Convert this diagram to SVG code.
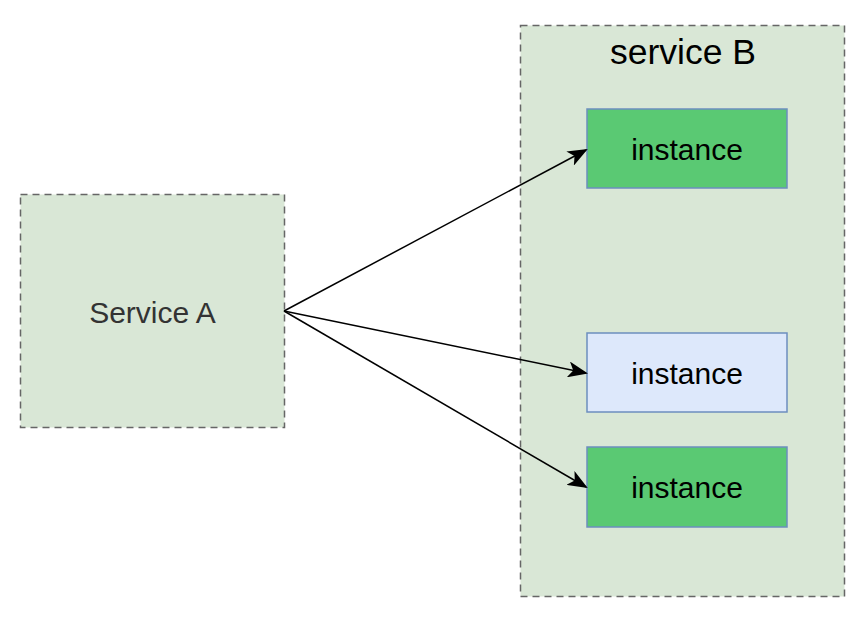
<svg xmlns="http://www.w3.org/2000/svg" width="866" height="622" viewBox="0 0 866 622">
<defs>
<style>
.grp{fill:#d9e7d6;stroke:#666;stroke-width:1.5;stroke-dasharray:7 5}
.inst{stroke:#6c8ebf;stroke-width:1.5}
.t{font-family:"Liberation Sans",Arial,sans-serif;text-anchor:middle}
.edge{stroke:#000;stroke-width:1.5;fill:none}
</style>
<marker id="arr" viewBox="0 0 20 16" refX="18" refY="8" markerWidth="20" markerHeight="16" markerUnits="userSpaceOnUse" orient="auto">
<path d="M0,0 L20,8 L0,16 L5,8 Z" fill="#000"/>
</marker>
</defs>
<rect width="866" height="622" fill="#fff"/>
<g id="serviceA">
<rect class="grp" x="20.5" y="194.5" width="264" height="233"/>
<text class="t" x="152.5" y="323" font-size="30" fill="#333">Service A</text>
</g>
<g id="serviceB">
<rect class="grp" x="520.5" y="25.5" width="324" height="571"/>
<text class="t" x="683" y="64" font-size="35.5" fill="#000">service B</text>
</g>
<g id="instance1">
<rect class="inst" x="587" y="109" width="200" height="79" fill="#5ac973"/>
<text class="t" x="687" y="160" font-size="30" fill="#000">instance</text>
</g>
<g id="instance2">
<rect class="inst" x="587" y="333" width="200" height="79" fill="#dde8fb"/>
<text class="t" x="687" y="384" font-size="30" fill="#000">instance</text>
</g>
<g id="instance3">
<rect class="inst" x="587" y="447" width="200" height="80" fill="#5ac973"/>
<text class="t" x="687" y="498" font-size="30" fill="#000">instance</text>
</g>
<g id="connectors">
<line class="edge" x1="284" y1="311" x2="586" y2="150" marker-end="url(#arr)"/>
<line class="edge" x1="284" y1="311" x2="586" y2="373" marker-end="url(#arr)"/>
<line class="edge" x1="284" y1="311" x2="586" y2="487" marker-end="url(#arr)"/>
</g>
</svg>
